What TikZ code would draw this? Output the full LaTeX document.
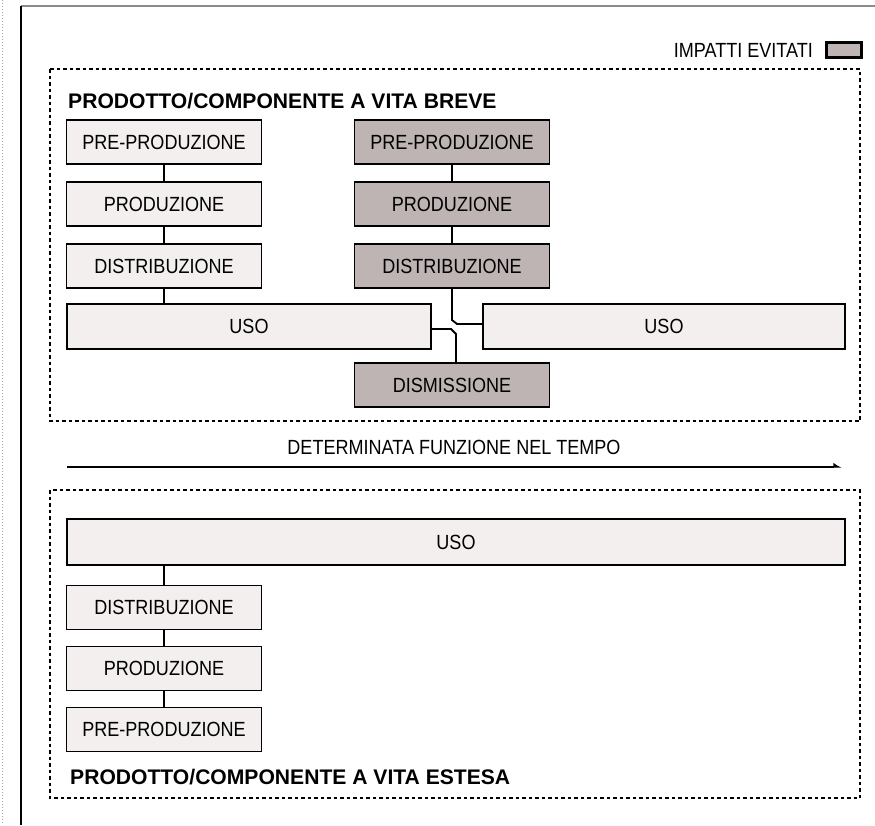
\documentclass[tikz,border=0pt]{standalone}
\usepackage{fontspec}
\setmainfont{Liberation Sans}
\newfontfamily\boxfont[FakeStretch=0.88]{Liberation Sans}
\newfontfamily\headfont{Liberation Sans Bold}
\usetikzlibrary{arrows.meta}
\definecolor{lightfill}{HTML}{F2EFEE}
\definecolor{avoided}{HTML}{BDB4B3}
\definecolor{framegray}{HTML}{8C8C8C}
\tikzset{
  phase/.style={draw=black, line width=1.9pt, fill=lightfill, inner sep=0pt,
    minimum height=44pt, font=\boxfont\fontsize{20.5}{24}\selectfont},
  phaseshort/.style={phase, minimum width=195pt},
  avoidedphase/.style={phaseshort, fill=avoided},
  link/.style={draw=black, line width=1.8pt},
  lifebox/.style={draw=black, line width=2.5pt, dash pattern=on 3.5pt off 3pt},
  heading/.style={anchor=west, inner sep=0pt, font=\headfont\fontsize{21.1}{25}\selectfont},
  plain/.style={inner sep=0pt, font=\boxfont\fontsize{20.5}{24}\selectfont}
}
\begin{document}
\begin{tikzpicture}[x=1pt, y=-1pt]
\useasboundingbox (0,0) rectangle (875,825);
\fill[white] (0,0) rectangle (875,825);

% page frame
\draw[gray!70, line width=1pt, dotted] (2,0) -- (2,825);
\draw[framegray, line width=2pt] (21,6) -- (875,6);
\draw[black, line width=1.8pt] (21,6) -- (21,825);

% legend
\node[plain, anchor=east] (legendtext) at (813,50) {IMPATTI EVITATI};
\node[draw=black, line width=2.4pt, fill=avoided, minimum width=35pt, minimum height=15pt, inner sep=0pt] (legendbox) at (844,50) {};

% short-life product
\draw[lifebox] (50,69) rectangle (860,421);
\node[heading] (titleA) at (68,101) {PRODOTTO/COMPONENTE A VITA BREVE};

\node[phaseshort] (preA) at (164,142) {PRE-PRODUZIONE};
\node[phaseshort] (prodA) at (164,204) {PRODUZIONE};
\node[phaseshort] (distA) at (164,266) {DISTRIBUZIONE};
\node[phase, minimum width=364pt, minimum height=45pt] (usoA) at (249,326.5) {USO};

\node[avoidedphase] (preB) at (452,142) {PRE-PRODUZIONE};
\node[avoidedphase] (prodB) at (452,204) {PRODUZIONE};
\node[avoidedphase] (distB) at (452,266) {DISTRIBUZIONE};
\node[phase, minimum width=362pt, minimum height=45pt] (usoB) at (664,326.5) {USO};
\node[avoidedphase] (dismB) at (452,385) {DISMISSIONE};

\draw[link] (preA) -- (prodA);
\draw[link] (prodA) -- (distA);
\draw[link] (distA) -- (distA.south |- usoA.north);
\draw[link] (preB) -- (prodB);
\draw[link] (prodB) -- (distB);
\draw[link] (distB.south) -- (452,320) -- (457,324) -- (usoB.west |- 0,324);
\draw[link] (usoA.east |- 0,329) -- (451,329) -- (456,334) -- (dismB.north -| 456,0);

% time axis
\node[plain] (timelabel) at (454,447) {DETERMINATA FUNZIONE NEL TEMPO};
\coordinate (tstart) at (67,467);
\coordinate (tend) at (842,467);
\draw[black, line width=2.8pt, -{Latex[left, length=7pt, width=9pt]}] (tstart) -- (tend);

% extended-life product
\draw[lifebox] (50,490) rectangle (860,798);
\node[phase, minimum width=778pt, minimum height=46pt] (usoC) at (456,542) {USO};
\node[phaseshort] (distC) at (164,607.5) {DISTRIBUZIONE};
\node[phaseshort] (prodC) at (164,668.5) {PRODUZIONE};
\node[phaseshort] (preC) at (164,729.5) {PRE-PRODUZIONE};
\node[heading] (titleC) at (70,777) {PRODOTTO/COMPONENTE A VITA ESTESA};

\draw[link] (usoC.south -| distC.north) -- (distC);
\draw[link] (distC) -- (prodC);
\draw[link] (prodC) -- (preC);
\end{tikzpicture}
\end{document}
